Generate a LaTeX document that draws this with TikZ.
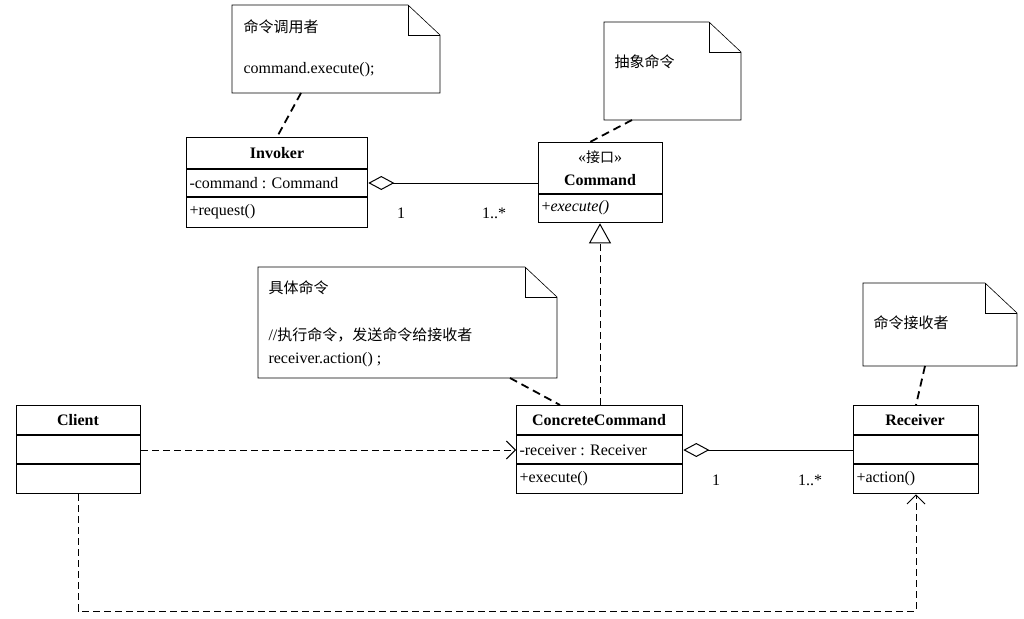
\documentclass[tikz,border=0pt]{standalone}
\usepackage{fontspec}
\setmainfont{Liberation Serif}
\newfontfamily\cjk{Noto Sans CJK SC}
\usetikzlibrary{arrows.meta}
\begin{document}
\begin{tikzpicture}[x=1pt,y=-1pt,line width=1pt,
  box/.style={draw,line width=1.3pt,anchor=north west,inner sep=0pt},
  t/.style={font=\fontsize{16}{18}\selectfont,inner sep=0pt},
  tl/.style={t,anchor=west},
  tb/.style={t,font=\fontsize{16}{18}\selectfont\bfseries},
  note/.style={draw,line width=0.6pt,fill=white},
  dsh/.style={dash pattern=on 7pt off 4pt},
  lk/.style={line width=1.8pt,dash pattern=on 8pt off 5pt},
  open/.style={-{Straight Barb[length=9pt,width=18pt]}},
  dia/.style={{Diamond[open,length=26pt,width=14pt]}-}]
\useasboundingbox (0,0) rectangle (1024,618);
\fill[white] (0,0) rectangle (1024,618);
% notes
\newcommand\mynote[4]{\draw[note] (#1,#2) -- (#3-32,#2) -- (#3,#2+30) -- (#3,#4) -- (#1,#4) -- cycle;
  \draw[line width=0.6pt] (#3-32,#2) -- (#3-32,#2+30) -- (#3,#2+30);}
\mynote{232}{5}{440}{93}
\node[tl,font=\cjk\fontsize{15}{18}\selectfont] (n1a) at (243,27) {命令调用者};
\node[tl] (n1b) at (243,70) {command.execute();};
\coordinate (n1) at (301,93);
\mynote{604}{22}{741}{120}
\node[tl,font=\cjk\fontsize{15}{18}\selectfont] (n2a) at (614,62) {抽象命令};
\coordinate (n2) at (632,120);
\mynote{258}{267}{557}{378}
\node[tl,font=\cjk\fontsize{15}{18}\selectfont] (n3a) at (268,288) {具体命令};
\node[tl] (n3b) at (268,335) {//{\cjk\fontsize{15}{18}\selectfont 执行命令，发送命令给接收者}};
\node[tl] (n3c) at (268,360) {receiver.action() ;};
\coordinate (n3) at (510,378);
\mynote{863}{283}{1017}{366}
\node[tl,font=\cjk\fontsize{15}{18}\selectfont] (n4a) at (873,323) {命令接收者};
\coordinate (n4) at (925,366);
% Invoker
\node[box,minimum width=181pt,minimum height=90pt] (inv) at (186,137) {};
\draw[line width=1.3pt] (186,169) -- (367,169) (186,197) -- (367,197);
\node[tb] at (277,153) {Invoker};
\node[tl] at (189,183) {-command : Command};
\node[tl] at (189,212) {+request()};
% Command
\node[box,minimum width=124pt,minimum height=80pt] (cmd) at (538,142) {};
\draw[line width=1.3pt] (538,194) -- (662,194);
\node[t] at (600,157) {<<{\cjk\fontsize{14}{16}\selectfont 接口}>>};
\node[tb] at (600,180) {Command};
\node[tl] at (541,208) {+\textit{execute()}};
% ConcreteCommand
\node[box,minimum width=166pt,minimum height=88pt] (cc) at (516,405) {};
\draw[line width=1.3pt] (516,435) -- (682,435) (516,464) -- (682,464);
\node[tb] at (599,420) {ConcreteCommand};
\node[tl] at (519,450) {-receiver : Receiver};
\node[tl] at (519,479) {+execute()};
% Client
\node[box,minimum width=124pt,minimum height=88pt] (cl) at (16,405) {};
\draw[line width=1.3pt] (16,435) -- (140,435) (16,464) -- (140,464);
\node[tb] at (78,420) {Client};
% Receiver
\node[box,minimum width=125pt,minimum height=88pt] (rc) at (853,405) {};
\draw[line width=1.3pt] (853,435) -- (978,435) (853,464) -- (978,464);
\node[tb] at (915,420) {Receiver};
\node[tl] at (856,479) {+action()};
% links
\draw[lk] (n1) -- (277,137);
\draw[lk] (n2) -- (590,142);
\draw[lk] (n3) -- (560,405);
\draw[lk] (n4) -- (916,405);
\draw[dia] (inv.east |- 0,183) -- (cmd.west |- 0,183);
\node[t] at (401,213) {1};
\node[t] at (494,213) {1..*};
\draw[dia] (cc.east |- 0,450) -- (rc.west |- 0,450);
\node[t] at (716,480) {1};
\node[t] at (810,480) {1..*};
\draw[dsh,-{Triangle[open,length=20pt,width=22pt]}] (cc.north -| 600,0) -- (cmd.south -| 600,0);
\draw[dsh,open] (cl.east |- 0,450) -- (cc.west |- 0,450);
\draw[dsh,open] (cl.south -| 78,0) -- (78,611) -- (916,611) -- (rc.south -| 916,0);
\end{tikzpicture}
\end{document}
